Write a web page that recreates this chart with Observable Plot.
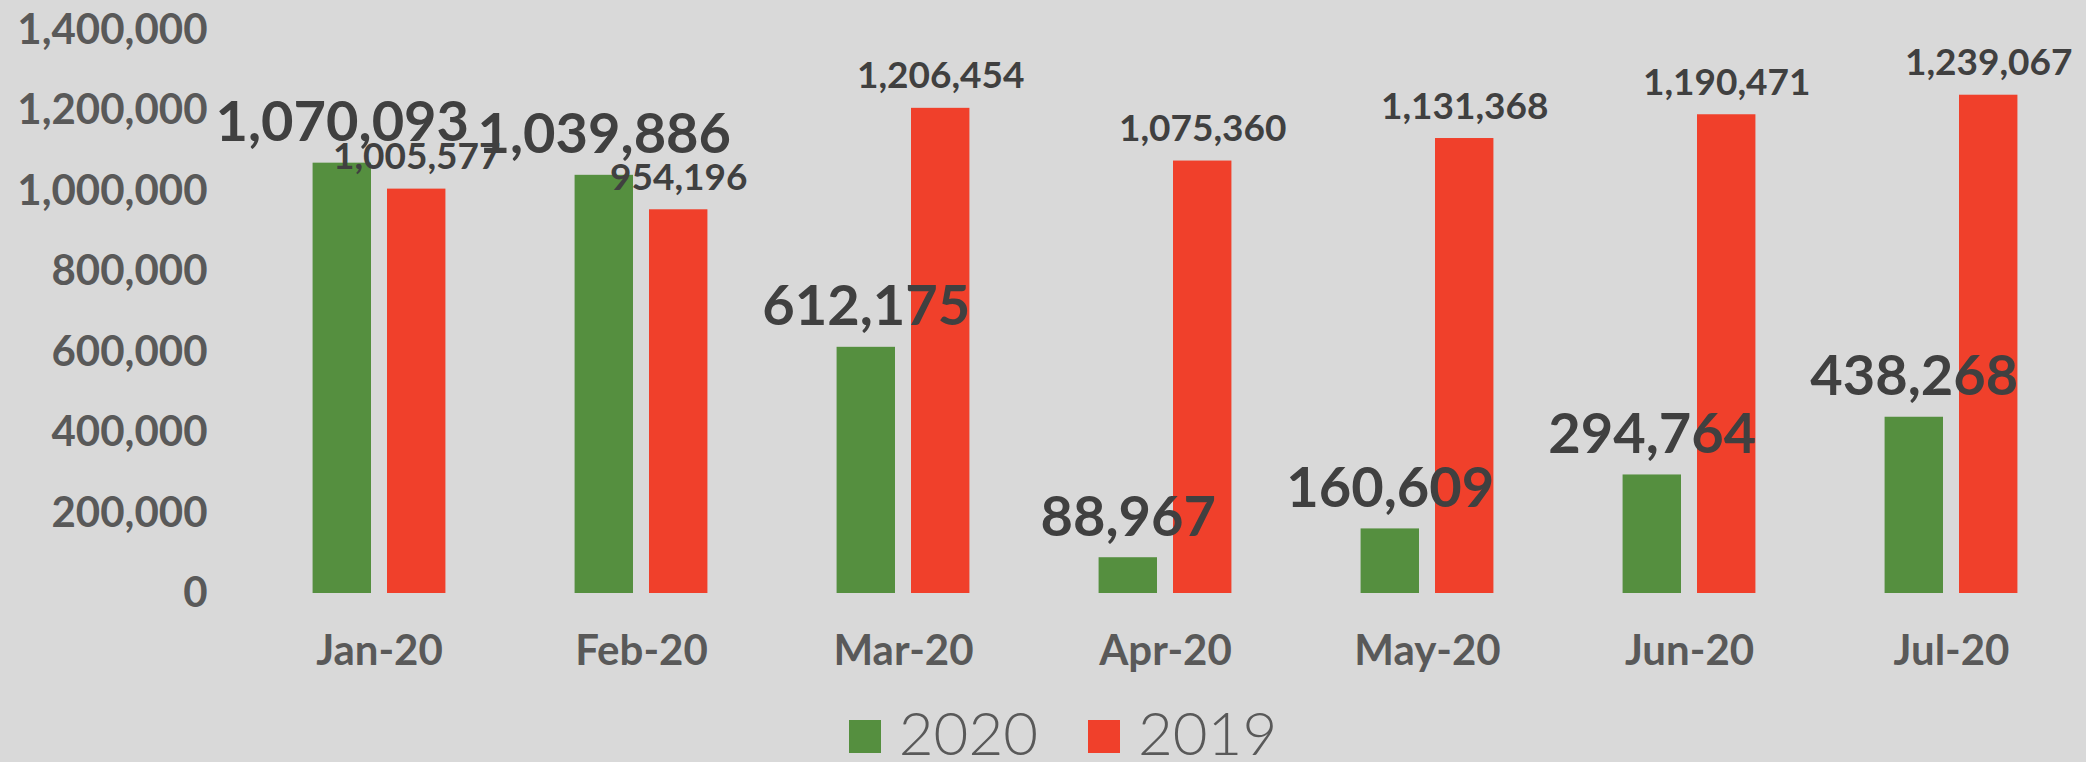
<!DOCTYPE html>
<html>
<head>
<meta charset="utf-8">
<script src="https://cdn.jsdelivr.net/npm/d3@7"></script>
<script src="https://cdn.jsdelivr.net/npm/@observablehq/plot@0.6"></script>
<style>
  html, body { margin: 0; padding: 0; background: #d9d9d9; width: 2086px; height: 762px; overflow: hidden; }
  #chart { position: absolute; left: 0; top: 0; }
  #legend { position: absolute; left: 0; top: 700px; width: 2086px; height: 62px; box-sizing: border-box; padding-left: 40px; display: flex; justify-content: center; align-items: flex-end; font-family: Lato, "Noto Sans", sans-serif; font-weight: 300; font-size: 60px; color: #595959; }
  .item { display: flex; align-items: center; line-height: 1; }
  .item + .item { margin-left: 50px; }
  .sw { width: 32px; height: 33px; margin-right: 18px; margin-top: 8px; }
</style>
</head>
<body>
<div id="chart"></div>
<div id="legend"></div>
<script>
const months = ["Jan-20", "Feb-20", "Mar-20", "Apr-20", "May-20", "Jun-20", "Jul-20"];
const series = ["2020", "2019"];
const values2020 = [1070093, 1039886, 612175, 88967, 160609, 294764, 438268];
const values2019 = [1005577, 954196, 1206454, 1075360, 1131368, 1190471, 1239067];
const colors = ["#558f3f", "#f0402b"];
const yTicks = [0, 200000, 400000, 600000, 800000, 1000000, 1200000, 1400000];

const data = [];
months.forEach((m, i) => {
  data.push({month: m, year: "2020", value: values2020[i]});
  data.push({month: m, year: "2019", value: values2019[i]});
});
const fmt = d3.format(",");

const chart = Plot.plot({
  width: 2086,
  height: 700,
  marginLeft: 247,
  marginRight: 3,
  marginTop: 30,
  marginBottom: 107,
  style: {background: "#d9d9d9", fontFamily: "Lato, 'Noto Sans', sans-serif"},
  fx: {domain: months, padding: 0, label: null},
  x: {domain: series, paddingInner: 0.215, paddingOuter: 0.868, round: false, axis: null},
  y: {domain: [0, 1400000], ticks: yTicks, label: null},
  color: {domain: series, range: colors},
  marks: [
    Plot.axisY({ticks: yTicks, tickFormat: fmt, tickSize: 0, tickPadding: 41, fontSize: 42, fontWeight: "bold", fill: "#595959", label: null}),
    Plot.axisFx({anchor: "bottom", tickSize: 0, tickPadding: 42, fontSize: 42, fontWeight: "bold", fill: "#595959", label: null}),
    Plot.barY(data, {fx: "month", x: "year", y: "value", fill: "year"}),
    Plot.text(data.filter(d => d.year === "2020"), {fx: "month", x: "year", y: "value", text: d => fmt(d.value), lineAnchor: "bottom", dy: -22, fontSize: 56, fontWeight: "bold", fill: "#404040"}),
    Plot.text(data.filter(d => d.year === "2019"), {fx: "month", x: "year", y: "value", text: d => fmt(d.value), lineAnchor: "bottom", dy: -20, fontSize: 37, fontWeight: "bold", fill: "#404040"})
  ]
});
document.getElementById("chart").appendChild(chart);

const legend = document.getElementById("legend");
series.forEach((s, i) => {
  const item = document.createElement("div");
  item.className = "item";
  const sw = document.createElement("span");
  sw.className = "sw";
  sw.style.background = colors[i];
  const t = document.createElement("span");
  t.textContent = s;
  item.appendChild(sw);
  item.appendChild(t);
  legend.appendChild(item);
});
</script>
</body>
</html>
